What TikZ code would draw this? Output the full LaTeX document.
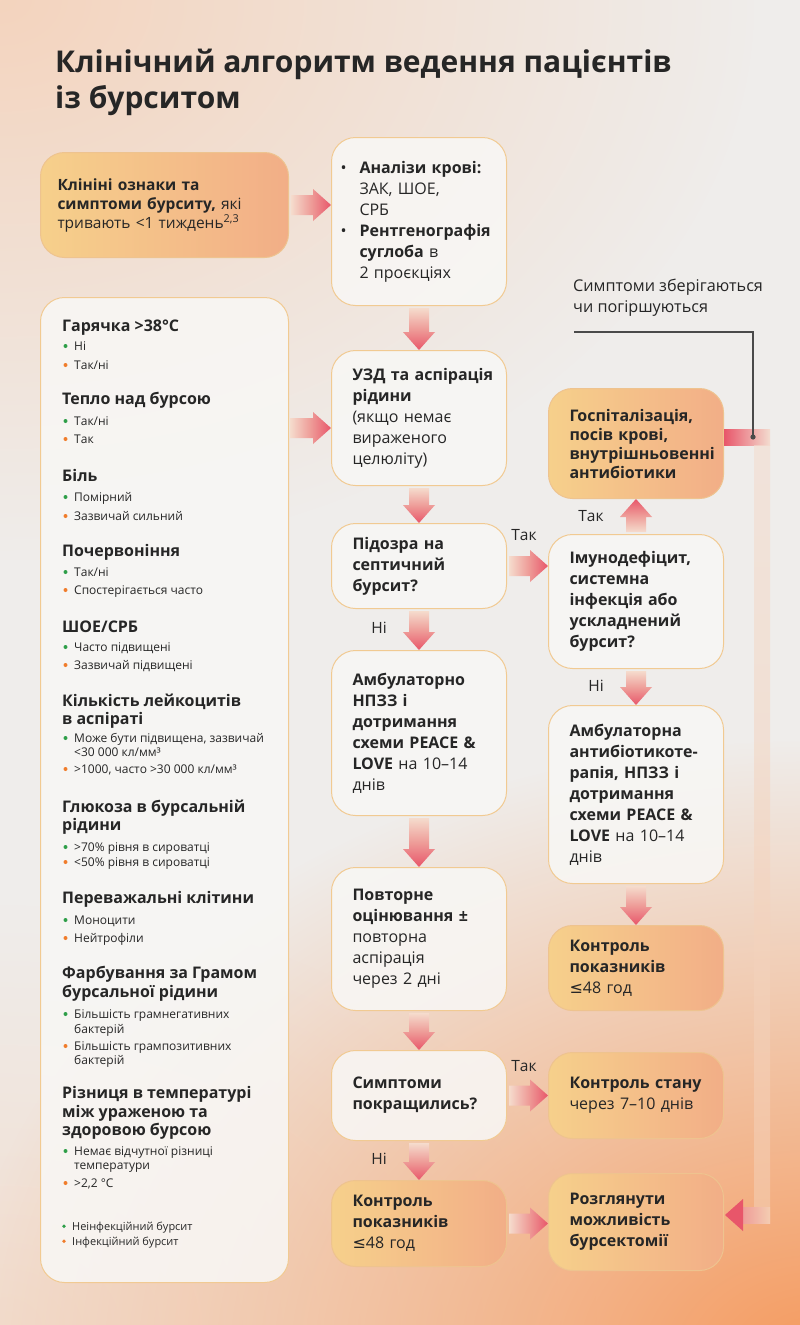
\documentclass[tikz,border=0pt]{standalone}
\usepackage{fontspec}
\setmainfont{Open Sans}
\newfontfamily\symfont{DejaVu Sans}
\usetikzlibrary{calc,fadings}

\definecolor{ink}{HTML}{262626}
\definecolor{bgbase}{HTML}{EFEDEB}
\definecolor{bgpeach}{HTML}{F4D4BE}
\definecolor{bgorange}{HTML}{F59A5E}
\definecolor{boxwhite}{HTML}{F8F7F5}
\definecolor{boxedge}{HTML}{F1CA92}
\definecolor{warmedge}{HTML}{EEC38F}
\definecolor{warmleft}{HTML}{F6D08B}
\definecolor{warmright}{HTML}{F2AE87}
\definecolor{arrowred}{HTML}{E8566A}
\definecolor{arrowmid}{HTML}{EE9C98}
\definecolor{arrowpale}{HTML}{F5DCCD}
\definecolor{bandpale}{HTML}{F3DDD0}
\definecolor{bandlow}{HTML}{F4CDB2}
\definecolor{okgreen}{HTML}{2E9E48}
\definecolor{badorange}{HTML}{F07C2B}
\definecolor{notegray}{HTML}{4A4A4A}

\tikzfading[name=softblob, inner color=transparent!0, outer color=transparent!100]

\tikzset{
  box/.style={line width=1pt, rounded corners=24pt, anchor=north west,
    inner ysep=4pt, align=left, text=ink, font=\fontsize{16}{21}\selectfont},
  flow/.style={box, text width=154pt, inner xsep=10.5pt,
    execute at begin node={\leftskip=10.5pt\relax}},
  plain/.style={draw=boxedge, fill=boxwhite, fill opacity=0.88, text opacity=1},
  warm/.style={draw=warmedge, left color=warmleft, right color=warmright},
  fatv/.style={top color=arrowpale, bottom color=arrowred, middle color=arrowmid},
  fatu/.style={bottom color=arrowpale, top color=arrowred, middle color=arrowmid},
  fath/.style={left color=arrowpale, right color=arrowred, middle color=arrowmid},
  lbl/.style={font=\fontsize{15.5}{18}\selectfont, text=ink, inner sep=0pt},
  phead/.style={font=\bfseries\fontsize{16}{19}\selectfont, text=ink, anchor=base west, inner sep=0pt},
  pitem/.style={font=\fontsize{12}{14}\selectfont, text=ink, anchor=base west, inner sep=0pt},
  noteline/.style={notegray, line width=1.4pt},
}

% fat arrows between boxes
\newcommand{\fatdown}[2]{%
  \shade[fatv] let \p1=(#1), \p2=(#2) in
    (\x1-10pt,\y1-2pt) -- (\x1+10pt,\y1-2pt) -- (\x1+10pt,\y2+18pt) -- (\x1+16pt,\y2+18pt)
    -- (\x1,\y2) -- (\x1-16pt,\y2+18pt) -- (\x1-10pt,\y2+18pt) -- cycle;}
\newcommand{\fatup}[2]{%
  \shade[fatu] let \p1=(#1), \p2=(#2) in
    (\x1-10pt,\y1+2pt) -- (\x1+10pt,\y1+2pt) -- (\x1+10pt,\y2-18pt) -- (\x1+16pt,\y2-18pt)
    -- (\x1,\y2) -- (\x1-16pt,\y2-18pt) -- (\x1-10pt,\y2-18pt) -- cycle;}
\newcommand{\fatright}[2]{%
  \shade[fath] let \p1=(#1), \p2=(#2) in
    (\x1+2pt,\y1+10pt) -- (\x2-18pt,\y1+10pt) -- (\x2-18pt,\y1+16pt) -- (\x2,\y1)
    -- (\x2-18pt,\y1-16pt) -- (\x2-18pt,\y1-10pt) -- (\x1+2pt,\y1-10pt) -- cycle;}

% left panel lines
\newcommand{\phead}[3]{\node[phead] (#1) at (62,#2) {#3};}
\newcommand{\pitem}[4]{\node[pitem] (#1) at (74,#2) {#4};
  \fill[#3] (65.5,#2-4) circle (2pt);}
\newcommand{\pline}[3]{\node[pitem] (#1) at (74,#2) {#3};}
\newcommand{\blt}{\makebox[19pt][l]{•}}
\newcommand{\atmost}{{\symfont ≤}}

\begin{document}
\begin{tikzpicture}[x=1pt, y=-1pt]
  \useasboundingbox (0,0) rectangle (800,1325);
  % background
  \begin{scope}
    \clip (0,0) rectangle (800,1325);
    \fill[bgbase] (0,0) rectangle (800,1325);
    \fill[bgpeach, path fading=softblob] (0,0) ellipse (760pt and 560pt);
    \fill[bgpeach, opacity=0.6, path fading=softblob] (0,1325) ellipse (600pt and 420pt);
    \fill[bgorange, path fading=softblob] (820,1360) ellipse (860pt and 620pt);
  \end{scope}

  % title
  \node[font=\bfseries\fontsize{30}{36}\selectfont, text=ink, align=left, anchor=north west, inner sep=0pt]
    (title) at (55,49) {Клінічний алгоритм ведення пацієнтів\\із бурситом};

  % main column
  \node[box, warm, minimum height=105pt, text width=214pt, inner xsep=17pt,
    font=\fontsize{15.5}{19}\selectfont] (signs) at (40,152)
    {\textbf{Клініні ознаки та}\\\textbf{симптоми бурситу,} які\\тривають <1 тиждень\textsuperscript{2,3}};
  \node[box, plain, minimum height=168pt, text width=157pt, inner xsep=9pt] (tests) at (331,137)
    {\blt\textbf{Аналізи крові:}\\\hspace*{19pt}ЗАК, ШОЕ,\\\hspace*{19pt}СРБ\\
     \blt\textbf{Рентгенографія}\\\hspace*{19pt}\textbf{суглоба} в\\\hspace*{19pt}2 проєкціях};
  \node[box, plain, minimum height=985pt, text width=206pt, inner xsep=21pt] (panel) at (40,297) {};
  \node[flow, plain, minimum height=135pt] (uzd) at (331,350)
    {\textbf{УЗД та аспірація}\\\textbf{рідини}\\(якщо немає\\вираженого\\целюліту)};
  \node[flow, plain, minimum height=85pt] (septic) at (331,523)
    {\textbf{Підозра на}\\\textbf{септичний}\\\textbf{бурсит?}};
  \node[flow, plain, minimum height=165pt] (outpt) at (331,650)
    {\textbf{Амбулаторно}\\\textbf{НПЗЗ і}\\\textbf{дотримання}\\\textbf{схеми PEACE \&}\\\textbf{LOVE} на 10–14\\днів};
  \node[flow, plain, minimum height=143pt] (reeval) at (331,867)
    {\textbf{Повторне}\\\textbf{оцінювання ±}\\повторна\\аспірація\\через 2 дні};
  \node[flow, plain, minimum height=90pt] (better) at (331,1050)
    {\textbf{Симптоми}\\\textbf{покращились?}};
  \node[flow, warm, minimum height=86pt] (check) at (331,1180)
    {\textbf{Контроль}\\\textbf{показників}\\\atmost48 год};

  % right column
  \node[flow, warm, minimum height=110pt, font=\fontsize{16}{19}\selectfont] (hosp) at (548,388)
    {\textbf{Госпіталізація,}\\\textbf{посів крові,}\\\textbf{внутрішньовенні}\\\textbf{антибіотики}};
  \node[flow, plain, minimum height=134pt] (immune) at (548,534)
    {\textbf{Імунодефіцит,}\\\textbf{системна}\\\textbf{інфекція або}\\\textbf{ускладнений}\\\textbf{бурсит?}};
  \node[flow, plain, minimum height=178pt] (abx) at (548,705)
    {\textbf{Амбулаторна}\\\textbf{антибіотикоте-}\\\textbf{рапія, НПЗЗ і}\\\textbf{дотримання}\\\textbf{схеми PEACE \&}\\\textbf{LOVE} на 10–14\\днів};
  \node[flow, warm, minimum height=85pt] (checkb) at (548,925)
    {\textbf{Контроль}\\\textbf{показників}\\\atmost48 год};
  \node[flow, warm, minimum height=86pt] (follow) at (548,1052)
    {\textbf{Контроль стану}\\через 7–10 днів};
  \node[flow, warm, minimum height=97pt] (bursect) at (548,1173)
    {\textbf{Розглянути}\\\textbf{можливість}\\\textbf{бурсектомії}};

  % note on worsening
  \node[lbl, align=left, anchor=north west, font=\fontsize{16.2}{21}\selectfont] (note) at (573,279)
    {Симптоми зберігаються\\чи погіршуються};
  \coordinate (notel) at (574,332);
  \coordinate (fbdot) at (753,437);
  \coordinate (fbtop) at (762,437);
  \coordinate (fbbot) at (762,1215);
  \coordinate (panelout) at (288,428);

  % feedback band
  \shade[left color=arrowred, right color=bandpale] let \p1=(hosp.east), \p2=(fbtop) in
    (\x1,\y2+8pt) rectangle (\x2+8pt,\y2-8pt);
  \shade[top color=bandpale, bottom color=bandlow, opacity=0.6] let \p1=(fbtop), \p2=(fbbot) in
    (\x1-8pt,\y1-8pt) rectangle (\x1+8pt,\y2-8pt);
  \shade[left color=arrowmid, right color=bandlow] let \p1=(bursect.east), \p2=(fbbot) in
    (\x1+18pt,\y2+8pt) rectangle (\x2+8pt,\y2-8pt);
  \fill[arrowred] let \p1=(bursect.east), \p2=(fbbot) in
    (\x1+1pt,\y2) -- (\x1+19pt,\y2+16pt) -- (\x1+19pt,\y2-16pt) -- cycle;
  \draw[noteline] (notel) -| (fbdot);
  \fill[notegray] (fbdot) circle (2.6pt);

  % connectors
  \fatright{signs.east}{tests.west}
  \fatright{panelout}{uzd.west}
  \fatdown{tests.south}{uzd.north}
  \fatdown{uzd.south}{septic.north}
  \fatdown{septic.south}{outpt.north}
  \fatdown{outpt.south}{reeval.north}
  \fatdown{reeval.south}{better.north}
  \fatdown{better.south}{check.north}
  \fatright{septic.east}{immune.west}
  \fatup{immune.north}{hosp.south}
  \fatdown{immune.south}{abx.north}
  \fatdown{abx.south}{checkb.north}
  \fatright{better.east}{follow.west}
  \fatright{check.east}{bursect.west}

  \node[lbl] (yes1) at (524,535) {Так};
  \node[lbl] (no1) at (379,628) {Ні};
  \node[lbl] (yes2) at (591,516) {Так};
  \node[lbl] (no2) at (596,686) {Ні};
  \node[lbl] (yes3) at (524,1066) {Так};
  \node[lbl] (no3) at (379,1159) {Ні};

  % criteria panel
  \phead{fever}{331}{Гарячка >38°C}
  \pitem{fevera}{350}{okgreen}{Ні}
  \pitem{feverb}{369}{badorange}{Так/ні}
  \phead{warmth}{404}{Тепло над бурсою}
  \pitem{warmtha}{425}{okgreen}{Так/ні}
  \pitem{warmthb}{443}{badorange}{Так}
  \phead{pain}{481}{Біль}
  \pitem{paina}{501}{okgreen}{Помірний}
  \pitem{painb}{520}{badorange}{Зазвичай сильний}
  \phead{redness}{556}{Почервоніння}
  \pitem{rednessa}{576}{okgreen}{Так/ні}
  \pitem{rednessb}{594}{badorange}{Спостерігається часто}
  \phead{esr}{632}{ШОЕ/СРБ}
  \pitem{esra}{651}{okgreen}{Часто підвищені}
  \pitem{esrb}{669}{badorange}{Зазвичай підвищені}
  \phead{wbc}{706}{Кількість лейкоцитів}
  \phead{wbcx}{724}{в аспіраті}
  \pitem{wbca}{742}{okgreen}{Може бути підвищена, зазвичай}
  \pline{wbcax}{756}{<30 000 кл/мм³}
  \pitem{wbcb}{773}{badorange}{>1000, часто >30 000 кл/мм³}
  \phead{gluc}{812}{Глюкоза в бурсальній}
  \phead{glucx}{830}{рідини}
  \pitem{gluca}{851}{okgreen}{>70\% рівня в сироватці}
  \pitem{glucb}{866}{badorange}{<50\% рівня в сироватці}
  \phead{cells}{903}{Переважальні клітини}
  \pitem{cellsa}{924}{okgreen}{Моноцити}
  \pitem{cellsb}{942}{badorange}{Нейтрофіли}
  \phead{gram}{978}{Фарбування за Грамом}
  \phead{gramx}{997}{бурсальної рідини}
  \pitem{grama}{1018}{okgreen}{Більшість грамнегативних}
  \pline{gramax}{1033}{бактерій}
  \pitem{gramb}{1050}{badorange}{Більшість грампозитивних}
  \pline{grambx}{1064}{бактерій}
  \phead{temp}{1098}{Різниця в температурі}
  \phead{tempx}{1117}{між ураженою та}
  \phead{tempy}{1135}{здоровою бурсою}
  \pitem{tempa}{1155}{okgreen}{Немає відчутної різниці}
  \pline{tempax}{1169}{температури}
  \pitem{tempb}{1187}{badorange}{>2,2 °C}

  % legend
  \node[pitem, font=\fontsize{11}{13}\selectfont] (keyok) at (72,1230) {Неінфекційний бурсит};
  \fill[okgreen] (64,1226.3) circle (1.9pt);
  \node[pitem, font=\fontsize{11}{13}\selectfont] (keybad) at (72,1245) {Інфекційний бурсит};
  \fill[badorange] (64,1241.3) circle (1.9pt);
\end{tikzpicture}
\end{document}
